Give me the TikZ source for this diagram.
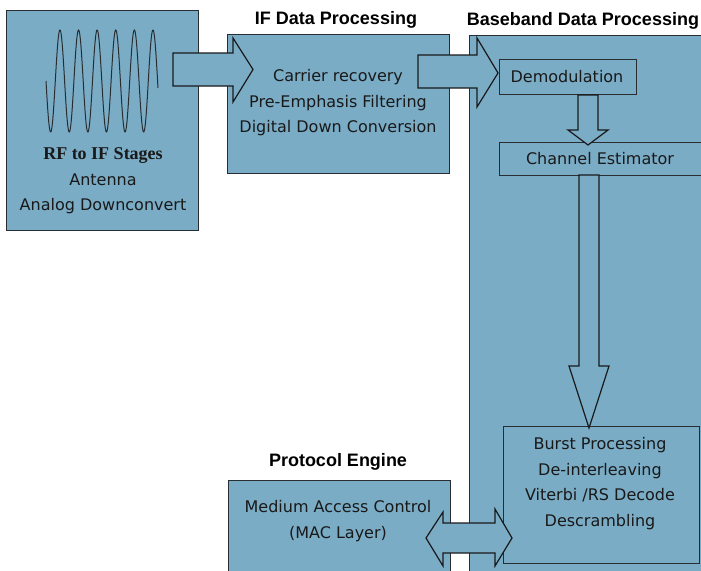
\documentclass[tikz,border=0pt]{standalone}
\usepackage{fontspec}
\newfontfamily\bodyfont{DejaVu Sans}
\newfontfamily\titlefont{Liberation Sans}
\newfontfamily\seriffont{Liberation Serif}
\definecolor{panel}{RGB}{122,172,198}
\definecolor{edge}{RGB}{40,45,50}

\begin{document}
\begin{tikzpicture}[x=1pt,y=-1pt,
  panelbox/.style={draw=edge, line width=1.3pt, fill=panel, anchor=north west, inner sep=0pt},
  subbox/.style={draw=edge, line width=1pt, fill=panel, anchor=north west, inner sep=0pt},
  blockarrow/.style={draw=black!90, line width=1.2pt, fill=panel, line join=miter},
  boxtext/.style={font=\bodyfont\fontsize{16}{25.5}\selectfont, align=center, text=black!90, inner sep=0pt},
  heading/.style={font=\titlefont\bfseries\fontsize{18}{20}\selectfont, text=black, inner sep=0pt},
]
\useasboundingbox (0,0) rectangle (701,570);
\fill[white] (0,0) rectangle (701,570);

% main processing panels
\node[panelbox, minimum width=240pt, minimum height=545pt] (bb) at (469,35) {};
\node[panelbox, minimum width=222pt, minimum height=139pt] (ifp) at (227,34) {};
\node[panelbox, minimum width=192pt, minimum height=220pt] (rf) at (6,10) {};
\node[panelbox, minimum width=222pt, minimum height=100pt] (mac) at (228,480) {};

% baseband sub-blocks
\node[subbox, minimum width=137pt, minimum height=35pt] (demod) at (499,59) {};
\node[subbox, minimum width=210pt, minimum height=33pt] (chan) at (499,142) {};
\node[subbox, minimum width=196pt, minimum height=137pt] (burst) at (503,426) {};

% RF waveform
\draw[edge, line width=1pt] plot[domain=46:158, samples=300, smooth]
  (\x, {81+51*sin(((\x-46)/18.6)*360)});

% block arrows
\draw[blockarrow] (173,53) -- (233,53) -- (233,38) -- (253,69.5) -- (233,102)
  -- (233,86) -- (173,86) -- cycle;
\draw[blockarrow] (418,55) -- (477,55) -- (477,38) -- (498,73) -- (477,107)
  -- (477,88) -- (418,88) -- cycle;
\draw[blockarrow] (578,95) -- (578,130) -- (568,130) -- (588,145) -- (608,130)
  -- (598,130) -- (598,95) -- cycle;
\draw[blockarrow] (579,175) -- (579,366) -- (569,366) -- (589,428) -- (609,366)
  -- (599,366) -- (599,175) -- cycle;
\draw[blockarrow] (426,538) -- (443,512) -- (443,523) -- (495,523) -- (495,509)
  -- (512,538) -- (495,566) -- (495,553) -- (443,553) -- (443,566) -- cycle;

% headings
\node[heading] (iftitle) at (336,20) {IF Data Processing};
\node[heading] (bbtitle) at (583,21) {Baseband Data Processing};
\node[heading] (petitle) at (338,462) {Protocol Engine};

% block texts
\node[boxtext] (rftext) at (103,181)
  {{\seriffont\bfseries\fontsize{18}{25.5}\selectfont RF to IF Stages}\\Antenna\\Analog Downconvert};
\node[boxtext] (iftext) at (338,103)
  {Carrier recovery\\Pre-Emphasis Filtering\\Digital Down Conversion};
\node[boxtext] (demodtext) at (567,77) {Demodulation};
\node[boxtext] (chantext) at (600,159) {Channel Estimator};
\node[boxtext] (bursttext) at (600,483.5)
  {Burst Processing\\De-interleaving\\Viterbi /RS Decode\\Descrambling};
\node[boxtext] (mactext) at (338,521) {Medium Access Control\\(MAC Layer)};
\end{tikzpicture}
\end{document}
